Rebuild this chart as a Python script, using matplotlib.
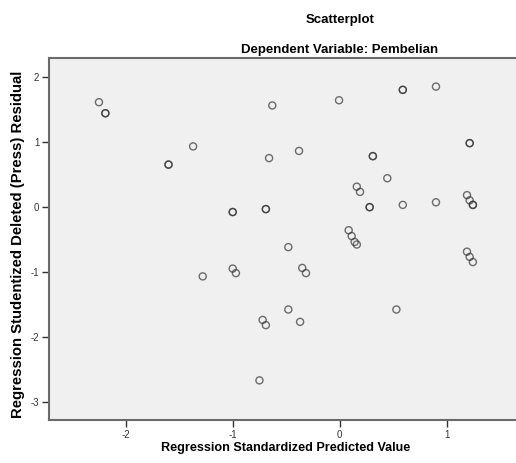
import numpy as np
import matplotlib
matplotlib.use('Agg')
from matplotlib import pyplot as plt

### DATA ######################################################################

# standardized predicted value (x) and studentized deleted residual (y)
predicted = [-2.25, -2.19, -2.19, -1.37, -1.60, -1.60, -1.00, -1.00, -0.69, -0.69,
             -0.63, -0.66, -0.006, 0.59, 0.59, 0.90, 1.215, 1.215, -0.38, 0.31,
             0.31, 0.445, 0.16, 0.19, 1.19, 1.215, 1.245, 1.245, 0.28, 0.28,
             0.59, 0.90, 0.084, 0.112, 0.14, 0.16, -0.48, -0.35, -0.315, 1.19,
             1.215, 1.245, -0.48, -0.72, -0.69, -0.37, 0.53, -0.75, -1.00, -0.97,
             -1.28]
residual = [1.61, 1.44, 1.44, 0.93, 0.65, 0.65, -0.08, -0.08, -0.035, -0.035,
            1.56, 0.75, 1.64, 1.80, 1.80, 1.85, 0.98, 0.98, 0.86, 0.78,
            0.78, 0.44, 0.31, 0.23, 0.18, 0.10, 0.03, 0.03, -0.005, -0.005,
            0.03, 0.07, -0.36, -0.45, -0.54, -0.58, -0.62, -0.94, -1.02, -0.69,
            -0.77, -0.85, -1.58, -1.74, -1.82, -1.77, -1.58, -2.67, -0.95, -1.02,
            -1.07]

xticks = [-2, -1, 0, 1]
yticks = [-3, -2, -1, 0, 1, 2]

### PLOT ######################################################################

plt.rcParams['font.family'] = ['Liberation Sans', 'DejaVu Sans']

fig = plt.figure(figsize=(5.16, 4.63), dpi=100)
ax = fig.add_axes([49/516, 43/463, 1 - 49/516, (420-58)/463])
ax.set_facecolor('#f0f0f0')

ax.scatter(predicted, residual, s=26, facecolors='none',
           edgecolors=(0.2, 0.2, 0.2, 0.7), linewidths=1.0)

ax.set_xlim(-2.717, 1.648)
ax.set_ylim(-3.28, 2.29)
ax.set_xticks(xticks)
ax.set_yticks(yticks)
ax.set_xticklabels([str(t) for t in xticks], fontsize=7, color='#333333')
ax.set_yticklabels([str(t) for t in yticks], fontsize=7, color='#333333')
ax.tick_params(axis='both', direction='out', length=5, width=1, color='#333333', pad=2)

for side in ['left', 'top', 'bottom']:
    ax.spines[side].set_color('#6a6a6a')
    ax.spines[side].set_linewidth(1.5)
ax.spines['right'].set_visible(False)

# axis labels, placed by hand to match the original
ax.set_xlabel('Regression Standardized Predicted Value', fontsize=9.1,
              fontweight='bold', va='center')
ax.xaxis.set_label_coords((286-49)/467, (420-448)/362)
ax.set_ylabel('Regression Studentized Deleted (Press) Residual', fontsize=10.7,
              fontweight='bold', va='center')
ax.yaxis.set_label_coords((18-49)/467, (420-244)/362)

fig.text(339.7/516, 1 - 19.5/463, 'Scatterplot', ha='center', va='center',
         fontsize=9.5, fontweight='bold')
fig.text(339.7/516, 1 - 49.5/463, 'Dependent Variable: Pembelian', ha='center',
         va='center', fontsize=9.5, fontweight='bold')

plt.savefig('out.png', dpi=100)
